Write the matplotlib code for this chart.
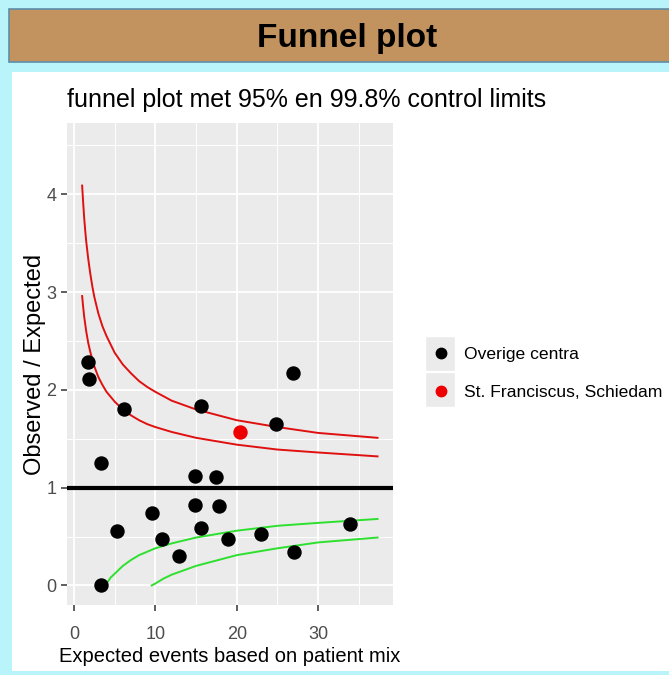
import matplotlib
matplotlib.use("Agg")
import matplotlib.pyplot as plt
from matplotlib.patches import Rectangle
from matplotlib.lines import Line2D

# overige centra (expected, observed/expected)
other_x = [1.7, 1.9, 6.2, 15.6, 26.9, 24.8, 3.3, 14.9, 17.5, 14.9, 17.8,
           9.6, 5.3, 15.6, 10.8, 18.9, 23.0, 12.9, 27.0, 33.9, 3.3]
other_y = [2.29, 2.11, 1.80, 1.84, 2.17, 1.65, 1.25, 1.12, 1.11, 0.82, 0.81,
           0.74, 0.56, 0.59, 0.47, 0.48, 0.53, 0.30, 0.34, 0.63, 0.00]

# St. Franciscus, Schiedam
own_x = [20.4]
own_y = [1.57]

# control limits
upper_x = [1, 1.1, 1.25, 1.4, 1.5, 1.75, 2, 2.25, 2.5, 3, 3.5, 4, 5, 6, 7, 8, 9,
           10, 12, 15, 20, 25, 30, 37.3]
upper_998 = [4.09, 3.95, 3.76, 3.61, 3.52, 3.34, 3.19, 3.06, 2.95, 2.78, 2.65, 2.55,
             2.38, 2.26, 2.17, 2.09, 2.03, 1.98, 1.89, 1.80, 1.69, 1.62, 1.56, 1.51]
upper_95 = [2.96, 2.87, 2.75, 2.66, 2.60, 2.48, 2.39, 2.31, 2.24, 2.13, 2.05, 1.98,
            1.88, 1.80, 1.74, 1.69, 1.65, 1.62, 1.57, 1.51, 1.44, 1.39, 1.36, 1.32]

lower95_x = [3.84, 4, 4.5, 5, 6, 7, 8, 10, 12, 15, 20, 25, 30, 37.3]
lower_95 = [0.00, 0.02, 0.08, 0.12, 0.20, 0.26, 0.31, 0.38, 0.43, 0.49, 0.56,
            0.61, 0.64, 0.68]

lower998_x = [9.55, 10, 11, 12, 13, 15, 20, 25, 30, 37.3]
lower_998 = [0.00, 0.02, 0.07, 0.11, 0.14, 0.20, 0.31, 0.38, 0.44, 0.49]

x_ticks = [0, 10, 20, 30]
y_ticks = [0, 1, 2, 3, 4]

W, H = 669, 675
fig = plt.figure(figsize=(W / 100, H / 100), dpi=100, facecolor="#b9f4fb")

# header balk + witte achtergrond (achter de assen)
fig.patches.append(Rectangle((9 / W, 1 - 62 / H), 1, 53 / H, transform=fig.transFigure,
                             facecolor="#c2935e", edgecolor="#5d8fa8", linewidth=1.2,
                             zorder=-3))
fig.patches.append(Rectangle((12 / W, 1 - 671 / H), 1, 599 / H, transform=fig.transFigure,
                             facecolor="white", edgecolor="none", zorder=-3))
fig.text(347 / W, 1 - 39 / H, "Funnel plot", ha="center", va="center",
         fontsize=24, fontweight="bold", family="Liberation Sans")

fig.text(67 / W, 1 - 107 / H, "funnel plot met 95% en 99.8% control limits",
         ha="left", va="baseline", fontsize=18, family="Liberation Sans")

ax = fig.add_axes([67 / W, 1 - 605 / H, 326 / W, 482 / H])
ax.set_facecolor("#ebebeb")
for s in ax.spines.values():
    s.set_visible(False)

ax.plot(upper_x, upper_998, color="#e01010", lw=1.4, zorder=3)
ax.plot(upper_x, upper_95, color="#e01010", lw=1.4, zorder=3)
ax.plot(lower95_x, lower_95, color="#2ee02e", lw=1.4, zorder=3)
ax.plot(lower998_x, lower_998, color="#2ee02e", lw=1.4, zorder=3)
ax.axhline(1, color="black", lw=3, zorder=3)

ax.scatter(other_x, other_y, s=88, color="black", zorder=4)
ax.scatter(own_x, own_y, s=88, color="#ee0000", zorder=4)

ax.set_xlim(-0.86, 39.2)
ax.set_ylim(-0.2, 4.73)
ax.set_xticks(x_ticks)
ax.set_yticks(y_ticks)
ax.set_xticks([5, 15, 25, 35], minor=True)
ax.set_yticks([0.5, 1.5, 2.5, 3.5, 4.5], minor=True)
ax.grid(True, which="major", color="white", lw=1.3)
ax.grid(True, which="minor", color="white", lw=0.7)
ax.set_axisbelow(True)
ax.tick_params(which="major", length=4, width=1.1, color="#333333",
               labelsize=13, labelcolor="#4d4d4d")
ax.tick_params(axis="x", which="major", pad=11)
ax.tick_params(which="minor", length=0)
for lab in ax.get_xticklabels() + ax.get_yticklabels():
    lab.set_family("Liberation Sans")

ax.set_xlabel("Expected events based on patient mix", fontsize=14.5,
              family="Liberation Sans", labelpad=3)
ax.set_ylabel("Observed / Expected", fontsize=17, family="Liberation Sans", labelpad=0)

# legenda met grijze keys
for top in (335, 371):
    fig.patches.append(Rectangle((425 / W, 1 - (top + 36) / H), 30 / W, 35 / H,
                                 transform=fig.transFigure, facecolor="#ebebeb",
                                 edgecolor="white", linewidth=1, zorder=-1))
handles = [Line2D([], [], ls="none", marker="o", ms=7.5, color="black"),
           Line2D([], [], ls="none", marker="o", ms=7.5, color="#ee0000")]
fig.legend(handles, ["Overige centra", "St. Franciscus, Schiedam"],
           loc="center left", bbox_to_anchor=(423 / W, 1 - 373 / H),
           frameon=False, handlelength=1.0, handletextpad=0.85, labelspacing=1.3,
           borderpad=0, prop={"family": "Liberation Sans", "size": 12.6})

fig.savefig("out.png", dpi=100, facecolor=fig.get_facecolor())
